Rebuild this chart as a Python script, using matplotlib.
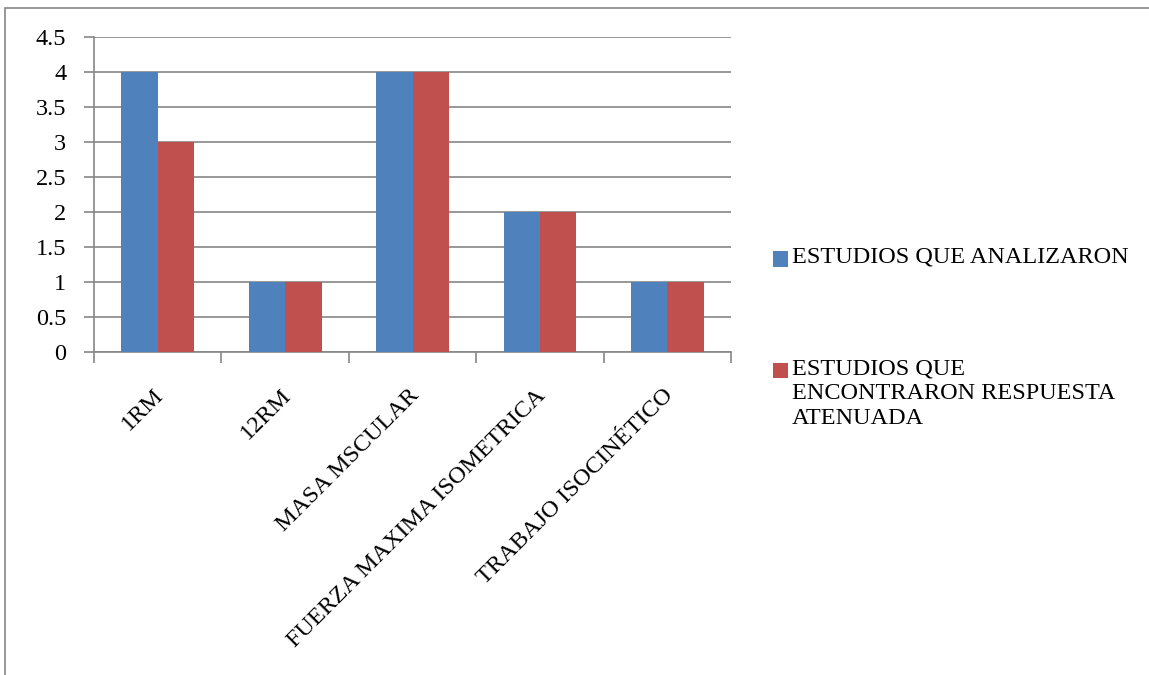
import matplotlib
matplotlib.use("Agg")
import matplotlib.pyplot as plt
from matplotlib.patches import Rectangle
import matplotlib.transforms as mtransforms
import numpy as np

categories = ["1RM", "12RM", "MASA MSCULAR", "FUERZA MAXIMA ISOMETRICA", "TRABAJO ISOCINÉTICO"]
analizaron = [4, 1, 4, 2, 1]
atenuada = [3, 1, 4, 2, 1]
series_labels = ["ESTUDIOS QUE ANALIZARON", "ESTUDIOS QUE\nENCONTRARON RESPUESTA\nATENUADA"]
yticks = [0, 0.5, 1, 1.5, 2, 2.5, 3, 3.5, 4, 4.5]
ytick_labels = ["0", "0.5", "1", "1.5", "2", "2.5", "3", "3.5", "4", "4.5"]

blue = "#4F81BD"
red = "#C0504D"
gray = "#868686"

plt.rcParams['font.family'] = ['Liberation Serif', 'DejaVu Serif']
FS = 17.5

W, H = 1149, 675
fig = plt.figure(figsize=(W / 100, H / 100), dpi=100)

# outer border
fig.patches.append(Rectangle((5 / W, -0.1), 1.2, (H - 8) / H + 0.1, transform=fig.transFigure,
                             fill=False, edgecolor=gray, linewidth=1.2))

ax = fig.add_axes([94 / W, (H - 352) / H, 637 / W, 315 / H])
x = np.arange(len(categories))
bw = 1 / 3.5
ax.bar(x - bw / 2, analizaron, width=bw, color=blue, zorder=3)
ax.bar(x + bw / 2, atenuada, width=bw, color=red, zorder=3)

ax.set_xlim(-0.5, len(categories) - 0.5)
ax.set_ylim(0, 4.5)
ax.set_yticks(yticks)
ax.set_yticklabels(ytick_labels, fontsize=FS)
ax.yaxis.grid(True, color=gray, linewidth=1.2, zorder=0)
ax.set_axisbelow(True)
for s in ["top", "right"]:
    ax.spines[s].set_visible(False)
for s in ["left", "bottom"]:
    ax.spines[s].set_color(gray)
    ax.spines[s].set_linewidth(1.2)
ax.tick_params(axis="y", direction="out", length=7, width=1.2, color=gray, pad=13)

ax.set_xticks(x)
ax.set_xticklabels(categories, fontsize=FS, rotation=45, ha="right", va="center",
                   rotation_mode="anchor")
ax.tick_params(axis="x", which="major", length=0, pad=29)
ax.set_xticks(np.arange(-0.5, len(categories)), minor=True)
ax.tick_params(axis="x", which="minor", direction="out", length=8, width=1.2, color=gray)
offset = mtransforms.ScaledTranslation(3 / 100, 0, fig.dpi_scale_trans)
for lab in ax.get_xticklabels():
    lab.set_transform(lab.get_transform() + offset)

# legend
sq = 15
for (yc, col, lab) in [(259, blue, series_labels[0]), (370, red, series_labels[1])]:
    fig.patches.append(Rectangle((773 / W, (H - yc - sq / 2) / H), sq / W, sq / H,
                                 transform=fig.transFigure, facecolor=col, edgecolor="none"))
    fig.text(792 / W, (H - yc + 12) / H, lab, fontsize=FS, ha="left", va="top",
             linespacing=1.25)

fig.savefig("out.png", dpi=100)
